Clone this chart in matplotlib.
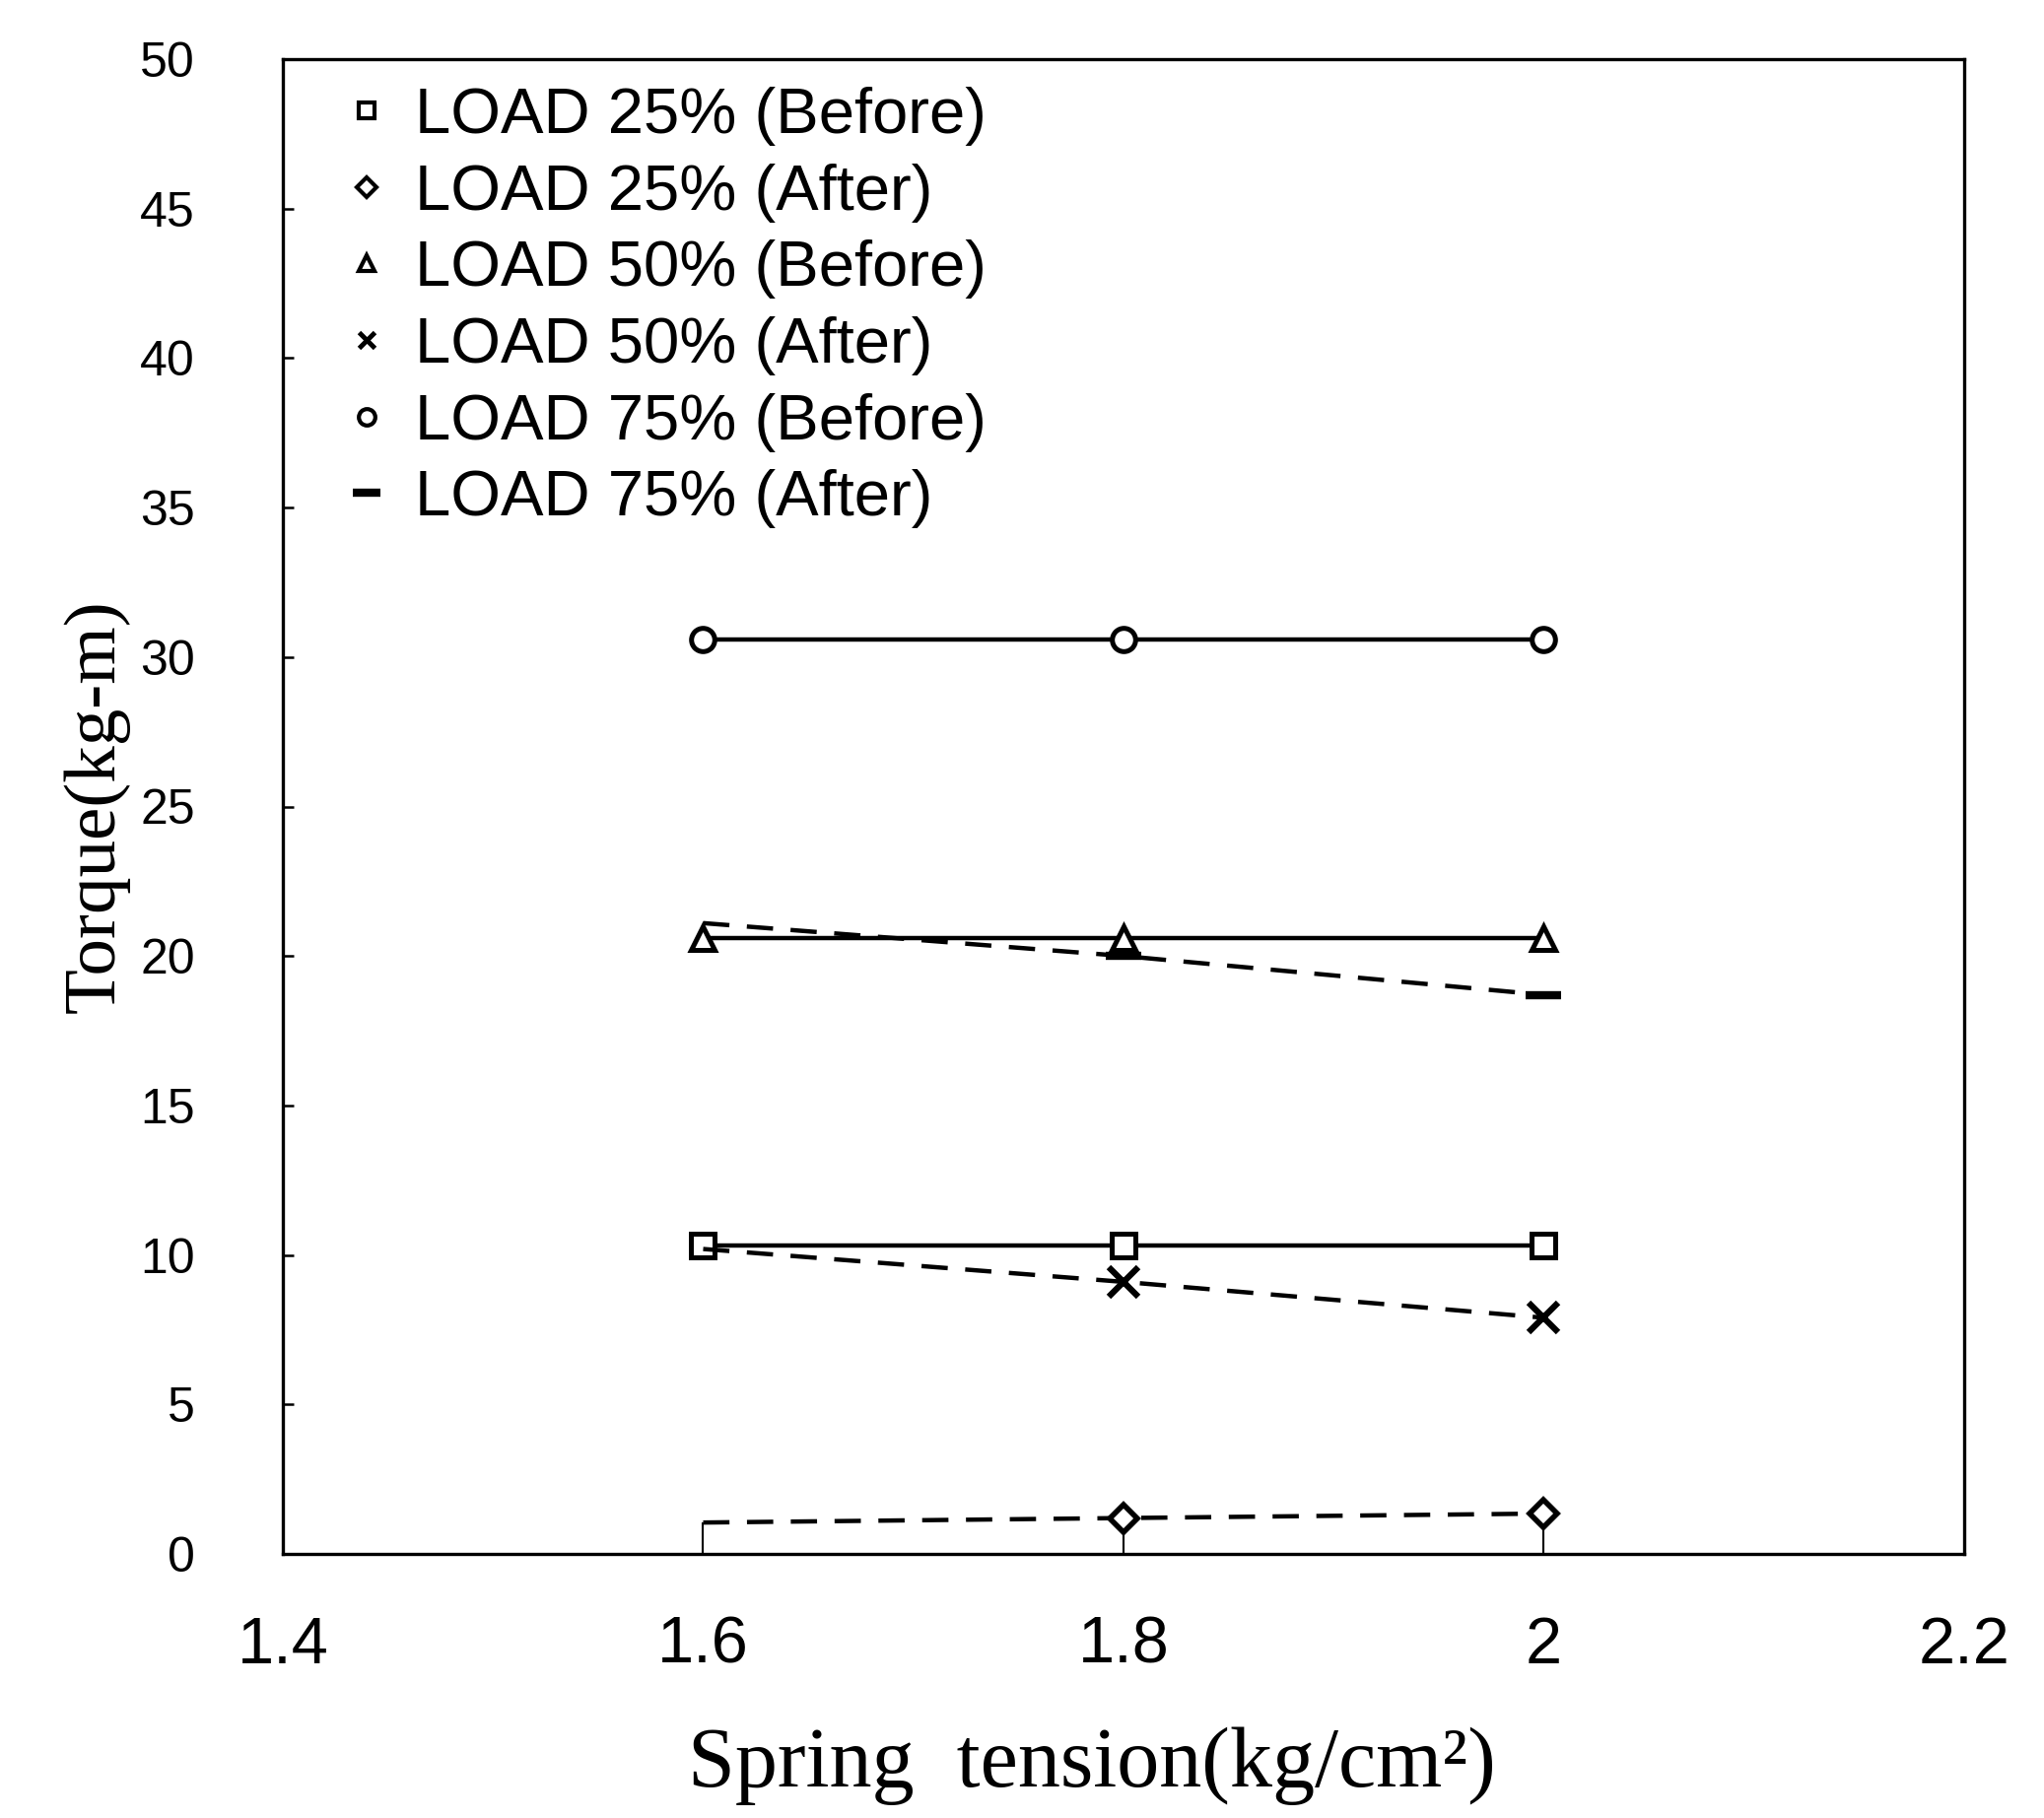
import matplotlib
matplotlib.use("Agg")
import matplotlib.pyplot as plt
from matplotlib.lines import Line2D

# ---- data ----
spring_tension = [1.6, 1.8, 2.0]
load25_before = [10.3, 10.3, 10.3]
load25_after = [1.05, 1.2, 1.35]
load50_before = [20.6, 20.6, 20.6]
load50_after = [10.2, 9.1, 7.9]
load75_before = [30.6, 30.6, 30.6]
load75_after = [21.1, 20.0, 18.7]

labels = ["LOAD 25% (Before)", "LOAD 25% (After)", "LOAD 50% (Before)",
          "LOAD 50% (After)", "LOAD 75% (Before)", "LOAD 75% (After)"]
x_ticks = [1.4, 1.6, 1.8, 2.0, 2.2]
x_ticklabels = ["1.4", "1.6", "1.8", "2", "2.2"]
y_ticks = [0, 5, 10, 15, 20, 25, 30, 35, 40, 45, 50]

W, H = 2074, 1845
fig = plt.figure(figsize=(W / 100, H / 100), dpi=100)
ax = fig.add_axes([287 / W, (H - 1577) / H, 1706 / W, 1517 / H])

lw = 3.2
dash = (0, (6, 4))
mk = dict(markersize=17, markeredgewidth=3.6, markerfacecolor="white", color="black")

# drop lines under the 25% After points
ax.vlines(spring_tension, 0, load25_after, colors="black", linewidth=1.5, zorder=1)

ax.plot(spring_tension, load75_before, "-", lw=lw, marker="o", **mk, zorder=3)
ax.plot(spring_tension, load50_before, "-", lw=lw, marker="^", **mk, zorder=3)
ax.plot(spring_tension, load25_before, "-", lw=lw, marker="s", **mk, zorder=3)
ax.plot(spring_tension, load75_after, linestyle=dash, lw=lw, marker="_",
        markevery=[1, 2], markersize=26, markeredgewidth=6, color="black", zorder=4)
ax.plot(spring_tension, load50_after, linestyle=dash, lw=lw, marker="x",
        markevery=[1, 2], markersize=22, markeredgewidth=4.5, color="black", zorder=4)
ax.plot(spring_tension, load25_after, linestyle=dash, lw=lw, marker="D",
        markevery=[1, 2], markersize=14, markeredgewidth=4,
        markerfacecolor="white", color="black", zorder=4)

ax.set_xlim(1.4, 2.2)
ax.set_ylim(0, 50)
ax.set_xticks(x_ticks)
ax.set_xticklabels(x_ticklabels)
ax.set_yticks(y_ticks)

for s in ax.spines.values():
    s.set_linewidth(2.4)

ax.tick_params(axis="y", direction="in", length=8, width=1.8, pad=64,
               labelsize=36, labelfontfamily="Liberation Sans")
ax.tick_params(axis="x", direction="in", length=0, width=1.8, pad=45,
               labelsize=48, labelfontfamily="Liberation Sans")

ax.set_ylabel("Torque(kg-m)", fontsize=54, family="Liberation Serif")
ax.yaxis.label.set_va("center")
ax.yaxis.set_label_coords(-0.111, 0.5)
ax.set_xlabel("Spring  tension(kg/cm²)", fontsize=62, family="Liberation Serif")
ax.xaxis.label.set_va("center")
ax.xaxis.set_label_coords(0.481, -0.142)

# legend (markers only)
handles = [
    Line2D([], [], ls="none", marker="s", markersize=12, markeredgewidth=3, mfc="white", color="black"),
    Line2D([], [], ls="none", marker="D", markersize=10, markeredgewidth=3, mfc="white", color="black"),
    Line2D([], [], ls="none", marker="^", markersize=12, markeredgewidth=3, mfc="white", color="black"),
    Line2D([], [], ls="none", marker="x", markersize=12, markeredgewidth=3.5, color="black"),
    Line2D([], [], ls="none", marker="o", markersize=12, markeredgewidth=3, mfc="white", color="black"),
    Line2D([], [], ls="none", marker="_", markersize=20, markeredgewidth=6, color="black"),
]
leg = ax.legend(handles, labels, loc="upper left", bbox_to_anchor=(0.019, 1.003),
                frameon=False, prop={"family": "Liberation Sans", "size": 47},
                handlelength=0.6, handletextpad=0.45, labelspacing=0.27,
                borderaxespad=0.1, borderpad=0.4)

fig.savefig("out.png", dpi=100, facecolor="white")
